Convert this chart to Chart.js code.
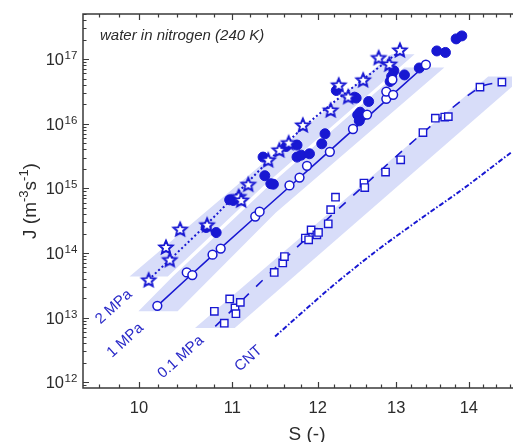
<!DOCTYPE html>
<html><head><meta charset="utf-8">
<script src="https://cdn.jsdelivr.net/npm/chart.js@4.4.1/dist/chart.umd.min.js"></script>
<style>html,body{margin:0;padding:0;background:#fff;overflow:hidden}canvas{display:block}</style>
</head><body>
<canvas id="c" width="521" height="442"></canvas>
<script>
// ---- axis ranges and ticks ----
const xMin = 9.446, xMax = 14.63;
const yMin = 8.13e11, yMax = 5.0e17;
const xTickLabels = [10, 11, 12, 13, 14];
const xMinorTicks = [9.6, 9.8, 10.2, 10.4, 10.6, 10.8, 11.2, 11.4, 11.6, 11.8, 12.2, 12.4, 12.6, 12.8, 13.2, 13.4, 13.6, 13.8, 14.2, 14.4, 14.6];
const yTickExps = [12, 13, 14, 15, 16, 17];

// ---- data: stars (2 MPa) ----
const starS = [10.10, 10.28, 10.32, 10.43, 10.72, 11.07, 11.10, 11.18, 11.41, 11.54, 11.65, 11.82, 12.16, 12.26, 12.38, 12.57, 12.77, 12.91, 13.05];
const starJ = [3.85e13, 1.24e14, 7.9e13, 2.34e14, 2.74e14, 7.5e14, 6.6e14, 1.16e15, 2.77e15, 3.95e15, 5.1e15, 9.6e15, 1.64e16, 4.0e16, 2.64e16, 4.8e16, 1.06e17, 8.4e16, 1.39e17];
// ---- filled circles ----
const filledS = [10.71, 10.82, 10.97, 11.01, 11.35, 11.37, 11.44, 11.47, 11.62, 11.75, 11.75, 11.80, 11.90, 12.05, 12.09, 12.23, 12.46, 12.48, 12.50, 12.52, 12.53, 12.64, 12.92, 12.94, 12.97, 13.11, 13.31, 13.55, 13.67, 13.82, 13.90];
const filledJ = [2.48e14, 2.07e14, 6.65e14, 6.5e14, 3.05e15, 1.57e15, 1.18e15, 1.16e15, 4.45e15, 4.68e15, 3.05e15, 3.27e15, 3.43e15, 4.9e15, 7.0e15, 3.27e16, 2.58e16, 2.5e16, 1.37e16, 1.11e16, 1.51e16, 2.21e16, 4.5e16, 5.4e16, 6.6e16, 5.7e16, 7.3e16, 1.34e17, 1.27e17, 2.06e17, 2.29e17];
// ---- open circles (1 MPa) ----
const openS = [10.19, 10.50, 10.56, 10.78, 10.87, 11.26, 11.31, 11.66, 11.78, 11.87, 12.15, 12.44, 12.62, 12.87, 12.87, 12.96, 12.95, 13.40];
const openJ = [1.52e13, 5.0e13, 4.55e13, 9.4e13, 1.17e14, 3.67e14, 4.35e14, 1.11e15, 1.47e15, 2.23e15, 3.68e15, 8.3e15, 1.39e16, 2.43e16, 3.15e16, 2.81e16, 4.8e16, 8.2e16];
// ---- open squares (0.1 MPa) ----
const squareS = [10.80, 10.91, 10.97, 11.03, 11.04, 11.09, 11.48, 11.58, 11.60, 11.85, 11.89, 11.92, 11.99, 12.01, 12.13, 12.16, 12.22, 12.58, 12.59, 12.86, 13.06, 13.36, 13.53, 13.66, 13.71, 14.16, 14.48];
const squareJ = [1.25e13, 8.2e12, 1.94e13, 1.41e13, 1.15e13, 1.72e13, 5.0e13, 7.0e13, 8.8e13, 1.70e14, 1.60e14, 2.28e14, 1.91e14, 2.08e14, 2.83e14, 4.67e14, 7.3e14, 1.21e15, 1.03e15, 1.79e15, 2.77e15, 7.3e15, 1.22e16, 1.27e16, 1.29e16, 3.69e16, 4.41e16];

// ---- fit / theory curves ----
const fit2S = [10.10, 10.70, 11.81, 13.05];
const fit2J = [3.85e13, 2.64e14, 8.4e15, 1.34e17];
const fit1S = [10.19, 10.78, 11.66, 12.44, 13.40];
const fit1J = [1.52e13, 9.2e13, 1.06e15, 8.05e15, 8.2e16];
const fit01S = [10.81, 11.73, 12.58, 13.36, 14.16, 14.50];
const fit01J = [7.3e12, 1.16e14, 1.10e15, 7.24e15, 3.69e16, 4.45e16];
const cntS = [11.49, 12.15, 12.71, 13.31, 13.90, 14.63];
const cntJ = [5.1e12, 2.84e13, 1.01e14, 3.27e14, 9.5e14, 3.68e15];

// ---- shaded bands (outline vertices) ----
const band2S = [9.905, 12.937, 13.247, 11.345, 10.299];
const band2J = [4.34e13, 1.19e17, 1.19e17, 1.06e15, 4.34e13];
const band1S = [9.995, 10.351, 11.405, 13.106, 13.655, 11.497, 10.403];
const band1J = [1.25e13, 4.34e13, 1.06e15, 7.41e16, 7.41e16, 4.19e14, 1.25e13];
const band01S = [10.589, 14.279, 14.808, 11.027];
const band01J = [6.89e12, 5.38e16, 5.38e16, 6.89e12];

// ---- curve labels ----
const curveLabels = ['2 MPa', '1 MPa', '0.1 MPa', 'CNT'];
const curveLabelS = [9.748, 9.863, 10.437, 11.183];
const curveLabelJ = [1.46e13, 4.43e12, 2.45e12, 2.31e12];

const BLUE = '#1818d2';
const LABEL_BLUE = '#2a2ac8';
const BAND = '#d8ddf9';
const AXIS = '#3a3a3a';
const TEXT = '#2b2b2b';
const FONT = '"Liberation Sans", Arial, sans-serif';

const pts = (xs, ys) => xs.map((v, i) => ({x: v, y: ys[i]}));

function makeStar(R, r, lw, color) {
  const size = Math.ceil(2 * R + 2 * lw + 2);
  const c = document.createElement('canvas');
  c.width = size; c.height = size;
  const g = c.getContext('2d');
  const cx = size / 2, cy = size / 2 + R * 0.1;
  g.beginPath();
  for (let i = 0; i < 10; i++) {
    const a = -Math.PI / 2 + i * Math.PI / 5;
    const rad = i % 2 ? r : R;
    g.lineTo(cx + rad * Math.cos(a), cy + rad * Math.sin(a));
  }
  g.closePath();
  g.fillStyle = '#ffffff'; g.fill();
  g.lineWidth = lw; g.strokeStyle = color; g.lineJoin = 'miter'; g.stroke();
  return c;
}
const starImg = makeStar(7, 3.2, 1.9, BLUE);

const axesPlugin = {
  id: 'axesFrame',
  afterDatasetsDraw(chart) {
    const {ctx, chartArea: ca, scales: {x, y}} = chart;
    ctx.save();
    // frame
    ctx.strokeStyle = AXIS; ctx.lineWidth = 1.5;
    ctx.beginPath();
    ctx.moveTo(ca.right + 1, ca.top); ctx.lineTo(ca.left, ca.top);
    ctx.lineTo(ca.left, ca.bottom); ctx.lineTo(ca.right + 1, ca.bottom);
    ctx.stroke();
    // x ticks (inward, bottom and top)
    ctx.lineWidth = 1.2;
    ctx.beginPath();
    xTickLabels.forEach(v => {
      const p = Math.round(x.getPixelForValue(v)) + 0.5;
      ctx.moveTo(p, ca.bottom); ctx.lineTo(p, ca.bottom - 6);
      ctx.moveTo(p, ca.top); ctx.lineTo(p, ca.top + 6);
    });
    xMinorTicks.forEach(v => {
      const p = Math.round(x.getPixelForValue(v)) + 0.5;
      ctx.moveTo(p, ca.bottom); ctx.lineTo(p, ca.bottom - 3.5);
      ctx.moveTo(p, ca.top); ctx.lineTo(p, ca.top + 3.5);
    });
    // y ticks (inward, left)
    for (let e = 11; e <= 17; e++) {
      for (let m = 1; m <= 9; m++) {
        const v = m * Math.pow(10, e);
        if (v < yMin || v > yMax) continue;
        const p = Math.round(y.getPixelForValue(v)) + 0.5;
        ctx.moveTo(ca.left, p); ctx.lineTo(ca.left + (m === 1 ? 6 : 3.5), p);
      }
    }
    ctx.stroke();

    // x tick labels
    ctx.fillStyle = TEXT;
    ctx.font = '16.5px ' + FONT;
    ctx.textAlign = 'center'; ctx.textBaseline = 'alphabetic';
    xTickLabels.forEach(v => ctx.fillText(String(v), x.getPixelForValue(v), 413));
    // y tick labels 10^n
    yTickExps.forEach(e => {
      const p = y.getPixelForValue(Math.pow(10, e));
      ctx.font = '16.5px ' + FONT; ctx.textAlign = 'right';
      ctx.fillText('10', 64, p + 6);
      ctx.font = '11.5px ' + FONT; ctx.textAlign = 'left';
      ctx.fillText(String(e), 64.5, p);
    });
    // x title
    ctx.font = '19px ' + FONT; ctx.textAlign = 'center';
    ctx.fillText('S (-)', 307, 440);
    // y title rotated
    ctx.save();
    ctx.translate(36, 201); ctx.rotate(-Math.PI / 2);
    const parts = [['J (m', 19, 0], ['-3', 13, -8], ['s', 19, 0], ['-1', 13, -8], [')', 19, 0]];
    let total = 0;
    parts.forEach(pp => { ctx.font = pp[1] + 'px ' + FONT; total += ctx.measureText(pp[0]).width; });
    let cx = -total / 2;
    ctx.textAlign = 'left';
    parts.forEach(pp => { ctx.font = pp[1] + 'px ' + FONT; ctx.fillText(pp[0], cx, pp[2]); cx += ctx.measureText(pp[0]).width; });
    ctx.restore();
    // annotation
    ctx.font = 'italic 15px ' + FONT; ctx.textAlign = 'left';
    ctx.fillText('water in nitrogen (240 K)', 100, 39.5);
    // curve labels
    ctx.fillStyle = LABEL_BLUE; ctx.font = '15px ' + FONT; ctx.textAlign = 'center'; ctx.textBaseline = 'middle';
    curveLabels.forEach((t, i) => {
      ctx.save();
      ctx.translate(x.getPixelForValue(curveLabelS[i]), y.getPixelForValue(curveLabelJ[i]));
      ctx.rotate(-42 * Math.PI / 180);
      ctx.fillText(t, 0, 0);
      ctx.restore();
    });
    ctx.restore();
  }
};

const bandDs = (xs, ys) => ({data: pts(xs, ys), showLine: true, fill: 'shape', backgroundColor: BAND, borderWidth: 0, borderColor: 'rgba(0,0,0,0)', pointRadius: 0, order: 10});
const lineDs = (xs, ys, dash, w) => ({data: pts(xs, ys), showLine: true, fill: false, borderColor: BLUE, borderWidth: w, borderDash: dash, pointRadius: 0, tension: 0.3, order: 5});

new Chart(document.getElementById('c'), {
  type: 'scatter',
  data: {
    datasets: [
      {label: '2 MPa', data: pts(starS, starJ), pointStyle: starImg, pointRadius: 8, order: 1},
      {label: 'filled', data: pts(filledS, filledJ), pointStyle: 'circle', pointRadius: 5, backgroundColor: BLUE, borderColor: BLUE, borderWidth: 1, order: 2},
      {label: '1 MPa', data: pts(openS, openJ), pointStyle: 'circle', pointRadius: 4.4, backgroundColor: '#ffffff', borderColor: BLUE, borderWidth: 1.5, order: 1},
      {label: '0.1 MPa', data: pts(squareS, squareJ), pointStyle: 'rect', pointRadius: 5.2, backgroundColor: '#ffffff', borderColor: BLUE, borderWidth: 1.4, order: 1},
      lineDs(fit2S, fit2J, [2, 2.5], 2),
      lineDs(fit1S, fit1J, [], 1.6),
      lineDs(fit01S, fit01J, [9, 10], 1.6),
      lineDs(cntS, cntJ, [5, 2, 1.5, 2], 2),
      bandDs(band2S, band2J),
      bandDs(band1S, band1J),
      bandDs(band01S, band01J)
    ]
  },
  options: {
    responsive: false,
    animation: false,
    devicePixelRatio: 1,
    layout: {padding: {left: 83, top: 14, right: 0, bottom: 54}},
    plugins: {legend: {display: false}, tooltip: {enabled: false}},
    scales: {
      x: {type: 'logarithmic', min: xMin, max: xMax, display: false},
      y: {type: 'logarithmic', min: yMin, max: yMax, display: false}
    }
  },
  plugins: [axesPlugin]
});
</script></body></html>
